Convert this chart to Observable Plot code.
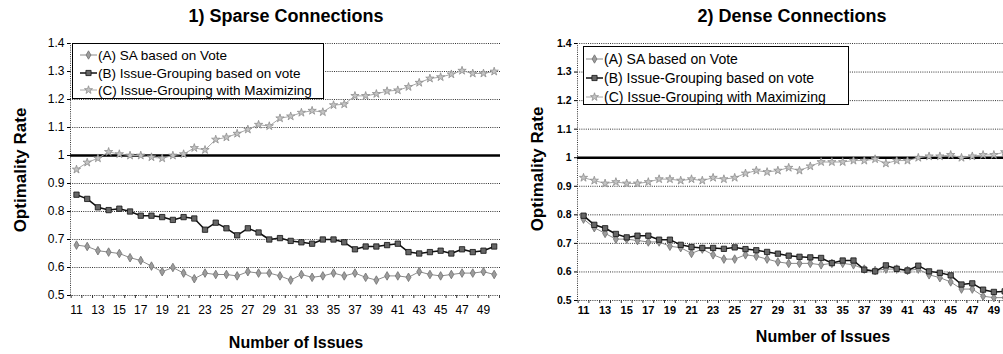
<!DOCTYPE html>
<html><head><meta charset="utf-8">
<script src="https://cdn.jsdelivr.net/npm/d3@7"></script>
<script src="https://cdn.jsdelivr.net/npm/@observablehq/plot@0.6"></script>
<style>
body{margin:0;width:1003px;height:354px;overflow:hidden;background:#fff;font-family:"Liberation Sans",Arial,sans-serif;position:relative;}
.panel{position:absolute;top:0;height:354px;overflow:hidden;}
.abs{position:absolute;white-space:nowrap;color:#000;}
.title{font-weight:bold;font-size:18px;transform:translate(-50%,-50%);}
.xt{font-weight:bold;font-size:16px;transform:translate(-50%,-50%);}
.yt{font-weight:bold;font-size:17px;transform:translate(-50%,-50%) rotate(-90deg);}
.legend{position:absolute;box-sizing:border-box;border:1px solid #000;background:#fff;}
.row{position:absolute;left:0;display:flex;align-items:center;white-space:nowrap;}
</style></head><body>
<div id="left" class="panel" style="left:0;width:500px"></div>
<div id="right" class="panel" style="left:500px;width:503px"></div>
<script>
const issues = [11,12,13,14,15,16,17,18,19,20,21,22,23,24,25,26,27,28,29,30,31,32,33,34,35,36,37,38,39,40,41,42,43,44,45,46,47,48,49,50];
const seriesNames = ["(A) SA based on Vote","(B) Issue-Grouping based on vote","(C) Issue-Grouping with Maximizing"];

const sparseA = [0.68,0.675,0.66,0.655,0.65,0.635,0.625,0.605,0.585,0.60,0.58,0.56,0.58,0.575,0.575,0.57,0.585,0.58,0.58,0.57,0.555,0.575,0.565,0.57,0.58,0.57,0.58,0.565,0.555,0.57,0.57,0.565,0.585,0.575,0.57,0.575,0.58,0.58,0.585,0.575];
const sparseB = [0.86,0.845,0.815,0.805,0.81,0.80,0.785,0.785,0.78,0.77,0.78,0.775,0.735,0.76,0.74,0.715,0.74,0.725,0.70,0.705,0.695,0.69,0.685,0.70,0.70,0.69,0.665,0.675,0.675,0.68,0.685,0.655,0.65,0.655,0.66,0.65,0.665,0.655,0.66,0.675];
const sparseC = [0.95,0.975,0.99,1.013,1.005,1.0,1.0,0.994,0.99,1.0,1.005,1.027,1.02,1.057,1.065,1.078,1.093,1.11,1.105,1.133,1.14,1.153,1.16,1.155,1.18,1.183,1.213,1.213,1.22,1.23,1.233,1.245,1.26,1.275,1.28,1.29,1.303,1.293,1.293,1.30];

const denseA = [0.785,0.755,0.735,0.715,0.715,0.71,0.705,0.705,0.69,0.685,0.665,0.68,0.66,0.645,0.645,0.66,0.655,0.645,0.635,0.63,0.63,0.63,0.625,0.63,0.63,0.625,0.61,0.605,0.61,0.61,0.605,0.61,0.59,0.58,0.565,0.54,0.54,0.515,0.51,0.51];
const denseB = [0.797,0.765,0.753,0.733,0.721,0.727,0.727,0.713,0.713,0.695,0.687,0.684,0.684,0.681,0.686,0.68,0.676,0.67,0.664,0.657,0.653,0.651,0.649,0.631,0.64,0.64,0.608,0.602,0.623,0.611,0.605,0.622,0.602,0.597,0.588,0.556,0.56,0.538,0.53,0.532];
const denseC = [0.93,0.92,0.91,0.915,0.91,0.91,0.915,0.925,0.925,0.92,0.925,0.92,0.93,0.925,0.93,0.945,0.955,0.95,0.955,0.965,0.955,0.97,0.985,0.985,0.985,0.99,0.99,0.995,0.98,0.99,0.99,1.0,1.005,1.005,1.01,1.0,1.005,1.01,1.01,1.02];

const yTicks = [0.5,0.6,0.7,0.8,0.9,1.0,1.1,1.2,1.3,1.4];
const xTickLabels = [11,13,15,17,19,21,23,25,27,29,31,33,35,37,39,41,43,45,47,49];
const titles = ["1) Sparse Connections","2) Dense Connections"];
const xTitle = "Number of Issues";
const yTitle = "Optimality Rate";

const styles = [
  {line:"#8a8a8a", lw:1, symbol:"diamond", fill:"#9c9c9c", stroke:"#707070", r:2.6, d3s:d3.symbolDiamond},
  {line:"#111", lw:1.5, symbol:"square", fill:"#666", stroke:"#111", r:3.0, d3s:d3.symbolSquare},
  {line:"#a8a8a8", lw:1, symbol:"star", fill:"#c4c4c4", stroke:"#8e8e8e", r:2.6, d3s:d3.symbolStar}
];

const font = "Liberation Sans, Arial, sans-serif";

function makePanel(el, cfg) {
  const rows = [];
  cfg.values.forEach((vals, i) => vals.forEach((v, j) => rows.push({n: issues[j], v, s: i})));
  const catEdges = issues.map(n => n - 0.5).concat([issues[issues.length-1] + 0.5]);
  const fmt = d => d === 1 ? "1" : d.toFixed(1);
  const marks = [
    Plot.ruleY(yTicks.filter(d => d !== 1), {stroke:"#333", strokeWidth:1, strokeDasharray:"1,1.2"}),
    Plot.ruleX([cfg.xdomain[0]], {stroke:"#333", strokeWidth:1, strokeDasharray:"1,1.2"}),
    Plot.axisY({ticks: yTicks, tickFormat: fmt, tickSize: 3, tickPadding: 3, fontSize: cfg.yFont, fontWeight: cfg.yWeight, fill:"#000", label: null}),
    Plot.axisX({ticks: catEdges, tickFormat: () => "", tickSize: 3, stroke:"#333", label: null}),
    Plot.axisX({ticks: xTickLabels, tickSize: 0, tickPadding: cfg.xPad, fontSize: cfg.xFont, fontWeight: cfg.xWeight, fill:"#000", label: null}),
    Plot.ruleY([1], {stroke:"#000", strokeWidth:2.5})
  ];
  styles.forEach((st, i) => {
    const data = rows.filter(r => r.s === i);
    marks.push(Plot.line(data, {x:"n", y:"v", stroke: st.line, strokeWidth: st.lw}));
    marks.push(Plot.dot(data, {x:"n", y:"v", symbol: () => st.symbol, fill: st.fill, stroke: st.stroke, strokeWidth: 0.8, r: st.r}));
  });
  const svg = Plot.plot({
    width: cfg.width, height: 354,
    marginTop: 43, marginBottom: cfg.mb, marginLeft: cfg.ml, marginRight: 0,
    x: {domain: cfg.xdomain, axis: null, label: null},
    y: {domain: [0.5, 1.4], axis: null, label: null},
    symbol: {type: "identity"},
    style: {fontFamily: font, background: "white", color: "#000"},
    marks
  });
  svg.style.position = "absolute";
  svg.style.left = "0px";
  svg.style.top = "0px";
  el.appendChild(svg);

  const add = (cls, text, x, y) => {
    const d = document.createElement("div");
    d.className = "abs " + cls;
    d.textContent = text;
    d.style.left = x + "px"; d.style.top = y + "px";
    el.appendChild(d);
    return d;
  };
  add("title", cfg.title, cfg.titleX, cfg.titleY);
  add("xt", xTitle, cfg.xtX, cfg.xtY);
  add("yt", yTitle, cfg.ytX, cfg.ytY);

  const lg = cfg.legend;
  const box = document.createElement("div");
  box.className = "legend";
  box.style.left = lg.x + "px"; box.style.top = lg.y + "px";
  box.style.width = lg.w + "px"; box.style.height = lg.h + "px";
  el.appendChild(box);
  seriesNames.forEach((name, i) => {
    const st = styles[i];
    const row = document.createElement("div");
    row.className = "row";
    row.style.top = (lg.rows[i] - lg.y - 9) + "px";
    row.style.height = "18px";
    row.style.left = (lg.markX - lg.x - 1) + "px";
    row.style.fontSize = lg.font + "px";
    const s = d3.create("svg").attr("width", lg.markW).attr("height", 10).style("flex", "none");
    s.append("line").attr("x1", 0).attr("x2", lg.markW).attr("y1", 5).attr("y2", 5)
      .attr("stroke", st.line).attr("stroke-width", st.lw);
    s.append("path").attr("d", d3.symbol(st.d3s, st.r * st.r * 3)())
      .attr("transform", `translate(${lg.markW/2},5)`).attr("fill", st.fill).attr("stroke", st.stroke).attr("stroke-width", 0.8);
    row.appendChild(s.node());
    const t = document.createElement("span");
    t.textContent = name;
    t.style.marginLeft = "1px";
    row.appendChild(t);
    box.appendChild(row);
  });
}

makePanel(document.getElementById("left"), {
  values: [sparseA, sparseB, sparseC],
  width: 500, ml: 70, mb: 59, xdomain: [10.44, 50.59],
  yFont: 12, yWeight: "normal", xFont: 12, xWeight: "normal", xPad: 10,
  title: titles[0], titleX: 286, titleY: 16,
  xtX: 296, xtY: 343, ytX: 21, ytY: 170,
  legend: {x: 72, y: 43, w: 252, h: 56, rows: [54, 72, 89], markX: 80, markW: 17, font: 13.5}
});
makePanel(document.getElementById("right"), {
  values: [denseA, denseB, denseC],
  width: 503, ml: 77, mb: 54, xdomain: [10.444, 49.89],
  yFont: 10.5, yWeight: "bold", xFont: 11, xWeight: "bold", xPad: 6,
  title: titles[1], titleX: 292, titleY: 16,
  xtX: 323, xtY: 337, ytX: 38, ytY: 169,
  legend: {x: 83, y: 46, w: 266, h: 59, rows: [58, 77, 96], markX: 86, markW: 17, font: 14}
});
</script>
</body></html>
